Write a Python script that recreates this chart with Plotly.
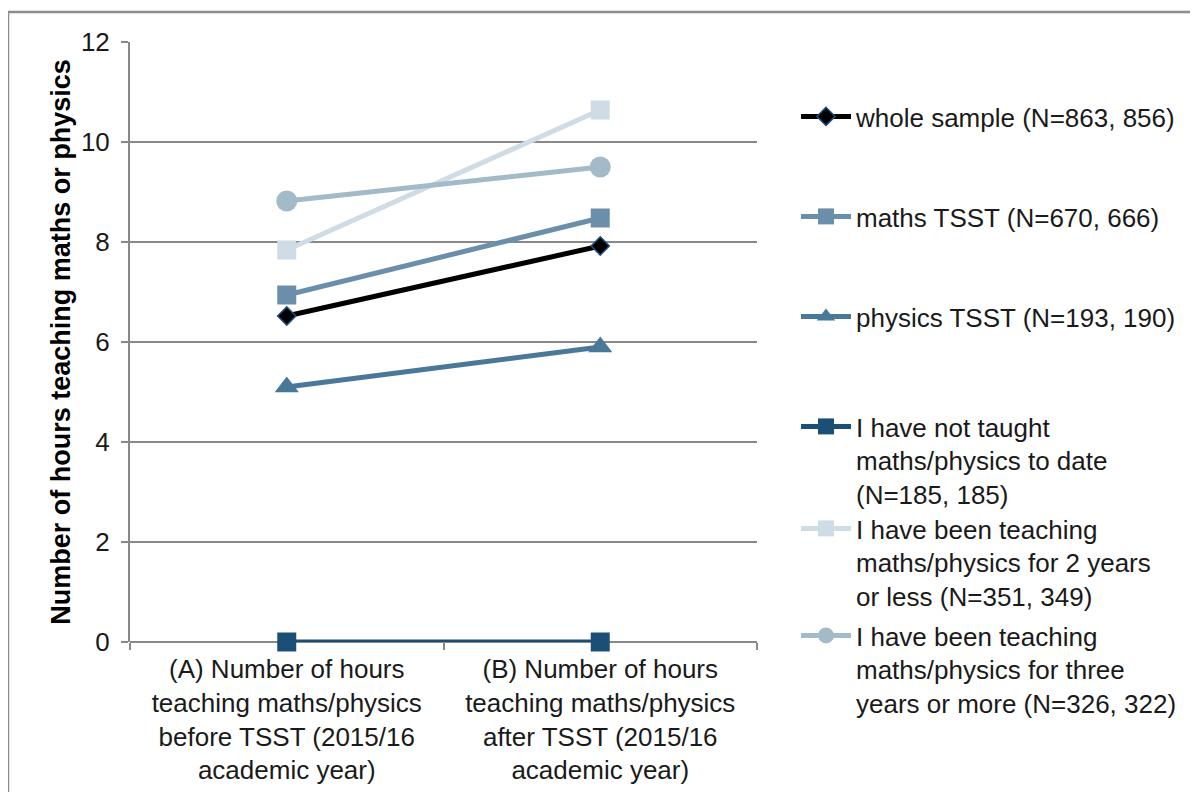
import plotly.graph_objects as go

categories = [
    "(A) Number of hours<br>teaching maths/physics<br>before TSST (2015/16<br>academic year)",
    "(B) Number of hours<br>teaching maths/physics<br>after TSST (2015/16<br>academic year)",
]

series_names = [
    "whole sample (N=863, 856)",
    "maths TSST (N=670, 666)",
    "physics TSST (N=193, 190)",
    "I have not taught<br>maths/physics to date<br>(N=185, 185)",
    "I have been teaching<br>maths/physics for 2 years<br>or less (N=351, 349)",
    "I have been teaching<br>maths/physics for three<br>years or more (N=326, 322)",
]

whole_sample = [6.52, 7.92]
maths_tsst = [6.94, 8.48]
physics_tsst = [5.10, 5.90]
not_taught = [0.0, 0.0]
two_years_or_less = [7.84, 10.64]
three_years_or_more = [8.82, 9.50]

y_ticks = [0, 2, 4, 6, 8, 10, 12]

values = [whole_sample, maths_tsst, physics_tsst, not_taught,
          two_years_or_less, three_years_or_more]

styles = [
    dict(color="#000000", symbol="diamond", size=14, mline=dict(color="#1f4e79", width=1.5), mcolor="#000000"),
    dict(color="#6b8faa", symbol="square", size=19, mline=dict(width=0), mcolor="#6b8faa"),
    dict(color="#4a7898", symbol="triangle-up", size=21, mline=dict(width=0), mcolor="#4a7898"),
    dict(color="#1b4f76", symbol="square", size=19, mline=dict(width=0), mcolor="#1b4f76"),
    dict(color="#cfdce6", symbol="square", size=19, mline=dict(width=0), mcolor="#cfdce6"),
    dict(color="#a3bac9", symbol="circle", size=21, mline=dict(width=0), mcolor="#a3bac9"),
]

# page offset (browser body margin) and plot area geometry in window pixels
OFF = 8
W, H = 1198, 792
PL, PT, PW, PH = 130, 42, 627, 600   # plot area as seen in the window
L, T = PL - OFF, PT - OFF
R, B = W - L - PW, H - T - PH

def px_x(x):
    return (x - PL) / PW

def px_y(y):
    return (PT + PH - y) / PH

legend_centers = [118, 218, 318, 428, 530, 637]

fig = go.Figure()
font_family = "Liberation Sans, Arial, sans-serif"
text_color = "#1a1a1a"

layout_legends = {}
for i, (name, vals, st) in enumerate(zip(series_names, values, styles)):
    lname = "legend" if i == 0 else f"legend{i+1}"
    fig.add_trace(go.Scatter(
        x=categories, y=vals, name=name, mode="lines+markers",
        line=dict(color=st["color"], width=5),
        marker=dict(symbol=st["symbol"], size=st["size"], color=st["mcolor"], line=st["mline"]),
        legend=lname, showlegend=True, cliponaxis=False,
    ))
    layout_legends[lname] = dict(
        x=px_x(796), y=px_y(legend_centers[i] - 25), xanchor="left", yanchor="top",
        valign="top", itemwidth=50, bgcolor="rgba(0,0,0,0)",
        font=dict(family=font_family, size=26, color=text_color),
        tracegroupgap=0,
    )

fig.update_layout(
    width=W, height=H,
    margin=dict(l=L, r=R, t=T, b=B, autoexpand=False),
    paper_bgcolor="white", plot_bgcolor="white",
    font=dict(family=font_family, size=21, color=text_color),
    showlegend=True,
    **layout_legends,
)

fig.update_xaxes(
    type="category", range=[-0.5, 1.5],
    showgrid=False, showline=False, zeroline=False,
    ticks="outside", tickson="boundaries", ticklen=7, tickwidth=2, tickcolor="#888888",
    tickfont=dict(family=font_family, size=26, color=text_color),
    ticklabelstandoff=9,
    automargin=False,
)

fig.update_yaxes(
    range=[0, 12], tickvals=y_ticks, ticktext=[str(v) for v in y_ticks],
    showgrid=True, gridcolor="#888888", gridwidth=2,
    zeroline=True, zerolinecolor="#888888", zerolinewidth=2,
    showline=True, linecolor="#888888", linewidth=2,
    ticks="outside", ticklen=7, tickwidth=2, tickcolor="#888888",
    tickfont=dict(family=font_family, size=26, color=text_color),
    ticklabelstandoff=6,
    title=dict(text="<b>Number of hours teaching maths or physics</b>",
               font=dict(family=font_family, size=27, color="#000000"), standoff=2),
    automargin=False,
)

# outer chart border (left and top visible)
fig.add_shape(type="path", xref="paper", yref="paper",
              path=f"M {px_x(8)} {px_y(800)} L {px_x(8)} {px_y(12)} L {px_x(1205)} {px_y(12)}",
              line=dict(color="#8c8c8c", width=2.5), layer="below")

fig.write_html("out.html")
